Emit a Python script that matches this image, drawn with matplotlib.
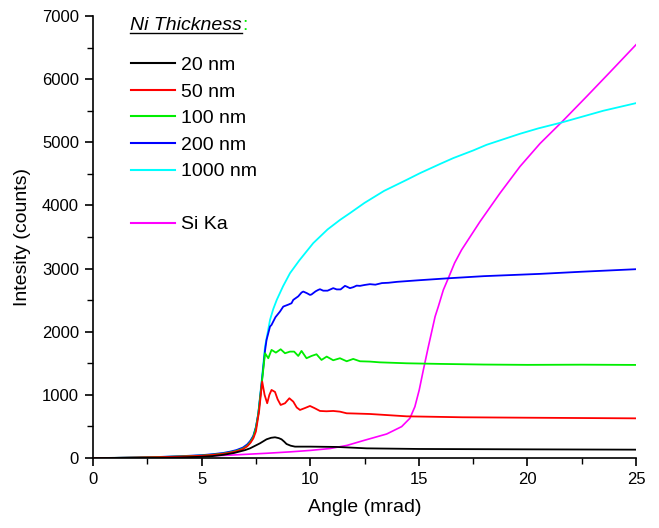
import matplotlib
matplotlib.use("Agg")
import matplotlib.pyplot as plt
from matplotlib.lines import Line2D
from matplotlib.ticker import MultipleLocator

plt.rcParams['font.family'] = ['Liberation Sans', 'DejaVu Sans']

# ---- data ----
x_1000 = [0, 1, 2, 3, 4, 5, 5.5, 6, 6.3, 6.6, 6.9, 7.1, 7.25, 7.38, 7.5, 7.61, 7.77, 7.92, 8.05,
          8.15, 8.3, 8.46, 8.75, 9.07, 9.5, 10.14, 10.8, 11.37, 11.83, 12.5, 13.4, 14.44, 15.06,
          16.0, 16.59, 17.5, 18.12, 19.0, 19.66, 20.5, 21.58, 23.5, 25]
y_1000 = [0, 2, 8, 15, 25, 40, 55, 72, 90, 115, 150, 200, 260, 340, 480, 708, 1236, 1764, 2000,
          2187, 2360, 2504, 2720, 2927, 3130, 3403, 3620, 3770, 3878, 4040, 4230, 4405, 4512,
          4660, 4750, 4870, 4960, 5060, 5135, 5220, 5314, 5500, 5620]

x_200 = [0, 1, 2, 3, 4, 5, 5.5, 6, 6.3, 6.6, 6.9, 7.1, 7.25, 7.38, 7.5, 7.61, 7.77, 7.92, 7.99,
         8.15, 8.22, 8.4, 8.61, 8.76, 9.0, 9.14, 9.22, 9.45, 9.6, 9.68, 9.85, 9.99, 10.06, 10.25,
         10.37, 10.45, 10.6, 10.8, 11.06, 11.22, 11.4, 11.6, 11.68, 11.83, 11.98, 12.14, 12.29,
         12.5, 12.75, 13.0, 13.3, 13.6, 14.0, 15.0, 16.44, 18.0, 20.58, 22.5, 25]
y_200 = [0, 2, 8, 16, 28, 45, 60, 80, 100, 125, 165, 215, 275, 350, 490, 700, 1200, 1700, 1870,
         2082, 2108, 2230, 2320, 2398, 2430, 2451, 2504, 2560, 2620, 2636, 2610, 2583, 2590, 2640,
         2662, 2673, 2650, 2650, 2690, 2670, 2670, 2726, 2715, 2690, 2705, 2730, 2726,
         2740, 2753, 2745, 2770, 2775, 2790, 2815, 2848, 2880, 2916, 2950, 2990]

x_100 = [0, 1, 2, 3, 4, 5, 5.5, 6, 6.3, 6.6, 6.9, 7.1, 7.25, 7.38, 7.5, 7.61, 7.77, 7.92, 8.07,
         8.22, 8.42, 8.64, 8.84, 9.07, 9.26, 9.45, 9.6, 9.83, 10.06, 10.29, 10.52, 10.76, 11.06,
         11.37, 11.68, 11.98, 12.29, 12.75, 13.2, 14.44, 16.0, 18.0, 20.0, 22.5, 25]
y_100 = [0, 2, 7, 14, 24, 38, 52, 70, 88, 112, 148, 195, 255, 330, 470, 690, 1180, 1659, 1580,
         1712, 1669, 1722, 1659, 1685, 1685, 1616, 1696, 1580, 1616, 1643, 1553, 1606, 1548,
         1580, 1532, 1569, 1532, 1527, 1515, 1500, 1490, 1480, 1475, 1478, 1474]

x_50 = [0, 1, 2, 3, 4, 5, 5.5, 6, 6.3, 6.6, 6.9, 7.1, 7.25, 7.38, 7.5, 7.65, 7.79, 7.9, 8.02,
        8.12, 8.22, 8.38, 8.5, 8.64, 8.84, 9.04, 9.22, 9.38, 9.53, 9.75, 9.99, 10.2, 10.45,
        10.75, 11.06, 11.37, 11.68, 12.0, 12.75, 14.44, 17.0, 20.0, 25]
y_50 = [0, 2, 7, 13, 22, 35, 48, 65, 82, 105, 140, 185, 240, 310, 420, 750, 1210, 1000, 867,
        1000, 1078, 1046, 930, 840, 867, 946, 893, 800, 761, 790, 824, 790, 745,
        740, 745, 734, 708, 705, 697, 660, 645, 638, 628]

x_20 = [0, 3, 4, 5, 5.5, 6, 6.5, 7.0, 7.23, 7.5, 7.69, 7.99, 8.2, 8.38, 8.55, 8.68, 8.8, 8.91,
        9.1, 9.3, 10.0, 11.22, 12.6, 15.0, 20.0, 25]
y_20 = [0, 3, 8, 20, 30, 50, 80, 125, 153, 200, 233, 296, 320, 328, 315, 296, 260, 222,
        195, 180, 180, 175, 153, 143, 137, 132]

x_si = [0, 2, 4, 6.3, 8, 9.07, 10, 10.91, 11.7, 12.44, 13.52, 14.21, 14.59, 14.82, 15.02, 15.21,
        15.44, 15.75, 15.9, 16.13, 16.36, 16.65, 16.97, 17.82, 18.74, 19.66, 20.58, 21.58, 22.73,
        23.8, 25]
y_si = [0, 5, 18, 45, 75, 97, 120, 150, 200, 275, 380, 497, 629, 813, 1078, 1395,
        1764, 2240, 2400, 2662, 2848, 3090, 3296, 3745, 4195, 4617, 4980, 5320, 5726,
        6110, 6545]

series = [
    (x_20, y_20, '#000000', '20 nm'),
    (x_50, y_50, '#ff0000', '50 nm'),
    (x_100, y_100, '#00ee00', '100 nm'),
    (x_200, y_200, '#0000ff', '200 nm'),
    (x_1000, y_1000, '#00ffff', '1000 nm'),
]
si_color = '#ff00ff'

fig = plt.figure(figsize=(6.59, 5.28), dpi=100)
ax = fig.add_axes([93/659, 1-458/528, (636-93)/659, (458-16)/528])

handles = []
ax.plot(x_si, y_si, color=si_color, lw=1.2, zorder=2)
for xs, ys, c, lab in reversed(series):
    ax.plot(xs, ys, color=c, lw=1.3, zorder=3)
for xs, ys, c, lab in series:
    handles.append(Line2D([], [], color=c, lw=1.5, label=lab))
handles.append(Line2D([], [], color='none', label=' '))
handles.append(Line2D([], [], color=si_color, lw=1.5, label='Si Ka'))

ax.set_xlim(0, 25)
ax.set_ylim(0, 7000)
ax.xaxis.set_major_locator(MultipleLocator(5))
ax.xaxis.set_minor_locator(MultipleLocator(2.5))
ax.yaxis.set_major_locator(MultipleLocator(1000))
ax.yaxis.set_minor_locator(MultipleLocator(500))
for s in ['top', 'right']:
    ax.spines[s].set_visible(False)
for s in ['left', 'bottom']:
    ax.spines[s].set_linewidth(1.2)
ax.tick_params(which='major', direction='out', length=6, width=1.2, labelsize=12, pad=4)
ax.tick_params(which='minor', direction='out', length=4, width=1.0)
ax.set_xlabel('Angle (mrad)', fontsize=14, labelpad=9)
ax.set_ylabel('Intesity (counts)', fontsize=14, labelpad=8)

leg = ax.legend(handles=handles, loc='upper left', bbox_to_anchor=(0.055, 0.926),
                frameon=False, fontsize=14, handlelength=2.3, handletextpad=0.28,
                labelspacing=0.46, borderaxespad=0)

t = fig.text(130/659, 1-26/528, 'Ni Thickness', fontsize=14, style='italic',
             va='center', ha='left')
fig.canvas.draw()
r = fig.canvas.get_renderer()
bb = t.get_window_extent(r).transformed(fig.transFigure.inverted())
fig.add_artist(Line2D([bb.x0, bb.x1], [bb.y0 + 0.002, bb.y0 + 0.002], color='black',
                      lw=1.0, transform=fig.transFigure))
fig.text(bb.x1, 1-26/528, ':', fontsize=14, color='#00ee00', va='center', ha='left')

fig.savefig('out.png', dpi=100)
